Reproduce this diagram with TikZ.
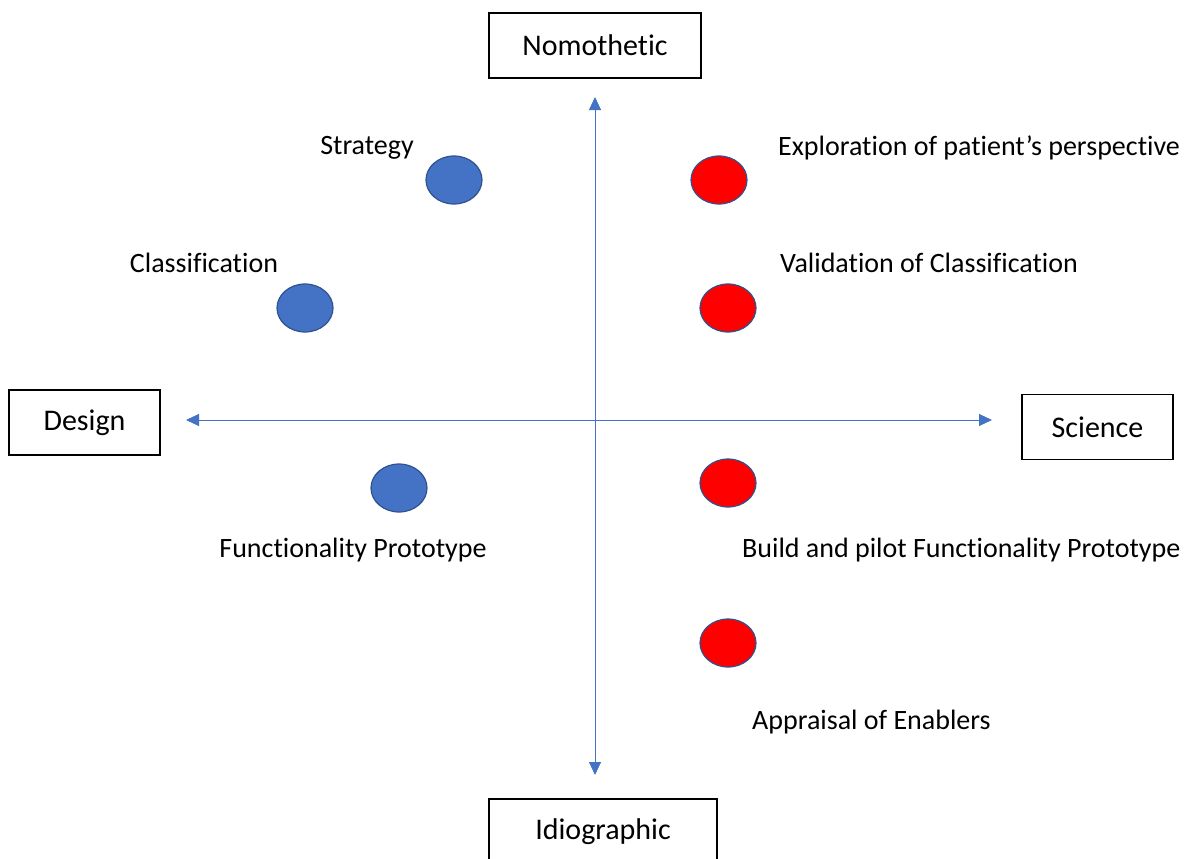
\documentclass[tikz,border=0pt]{standalone}
\usepackage{fontspec}
\setmainfont{Carlito}[Ligatures=NoCommon]
\usetikzlibrary{arrows.meta,shapes.geometric}
\definecolor{axisblue}{HTML}{4472C4}
\definecolor{edgeblue}{HTML}{2F528F}
\definecolor{dotred}{HTML}{FF0000}
\begin{document}
\begin{tikzpicture}[x=1pt,y=-1pt,
  axisbox/.style={draw=black,line width=1.3pt,minimum height=65pt,inner sep=0pt,font=\fontsize{30}{34}\selectfont},
  lab/.style={inner sep=0pt,font=\fontsize{28}{32}\selectfont},
  bluedot/.style={ellipse,draw=edgeblue,fill=axisblue,line width=1.2pt,minimum width=56pt,minimum height=48pt,inner sep=0pt},
  reddot/.style={ellipse,draw=edgeblue,fill=dotred,line width=1.2pt,minimum width=56pt,minimum height=48pt,inner sep=0pt},
  axis/.style={draw=axisblue,line width=0.9pt,-{Triangle[length=13pt,width=12pt]}}
]
\useasboundingbox (0,0) rectangle (1191,859);
% boxes
\node[axisbox,minimum width=212pt] (nomo) at (595,45.5) {Nomothetic};
\node[axisbox,minimum width=151pt] (design) at (84.5,422.5) {Design};
\node[axisbox,minimum width=151pt] (science) at (1097.5,427) {Science};
\node[axisbox,minimum width=228pt] (idio) at (603,831.5) {Idiographic};
% axes
\coordinate (c) at (595,420);
\coordinate (top) at (595,97);
\coordinate (bot) at (595,775);
\coordinate (lft) at (186,420);
\coordinate (rgt) at (992,420);
\draw[axis] (c) -- (top);
\draw[axis] (c) -- (bot);
\draw[axis] (c) -- (lft);
\draw[axis] (c) -- (rgt);
% dots
\node[bluedot] (strat) at (454,180) {};
\node[bluedot] (class) at (305,308) {};
\node[bluedot] (func) at (399,488) {};
\node[reddot] (explo) at (719,180) {};
\node[reddot] (valid) at (728,308) {};
\node[reddot] (build) at (728,483) {};
\node[reddot] (appr) at (728,643) {};
% labels
\node[lab] (lstrat) at (367,148) {Strategy};
\node[lab] (lclass) at (204,263) {Classification};
\node[lab] (lfunc) at (353,550) {Functionality Prototype};
\node[lab,anchor=west] (lexplo) at (778,148) {Exploration of patient’s perspective};
\node[lab,anchor=west] (lvalid) at (780,263) {Validation of Classification};
\node[lab,anchor=west] (lbuild) at (742,550) {Build and pilot Functionality Prototype};
\node[lab,anchor=west] (lappr) at (752,722) {Appraisal of Enablers};
\end{tikzpicture}
\end{document}
